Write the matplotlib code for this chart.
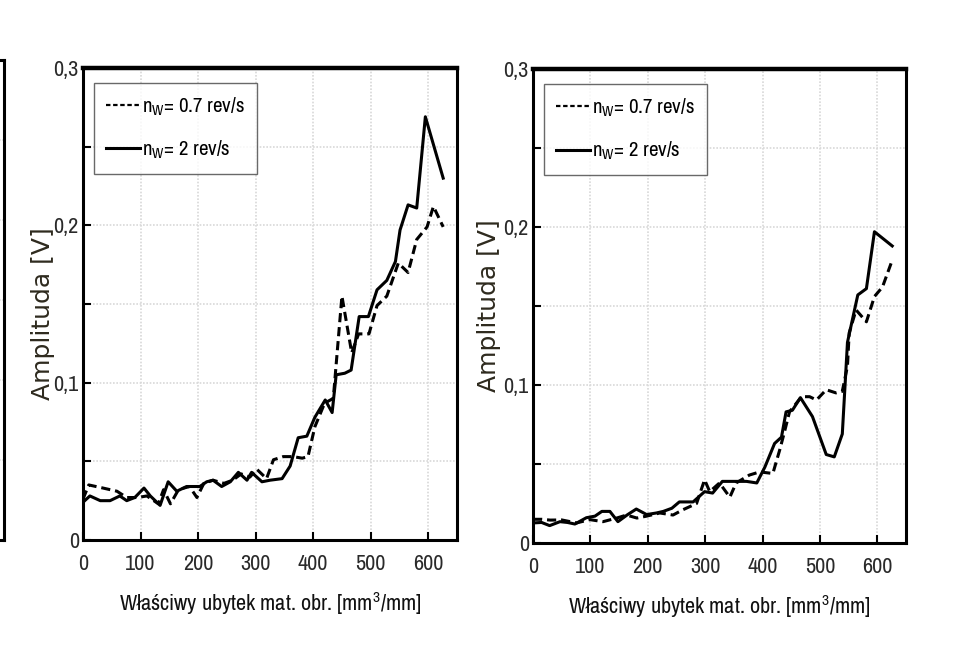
import matplotlib
matplotlib.use("Agg")
import matplotlib.pyplot as plt
from matplotlib import font_manager
from matplotlib.lines import Line2D
from matplotlib.ticker import MultipleLocator, FuncFormatter

# ---- data ----
left_x_solid = [0, 12, 30, 47, 64, 76, 90, 106, 117, 134, 148, 163, 180, 203, 215, 226, 241, 256, 270, 285,
                293, 311, 325, 346, 360, 374, 389, 403, 421, 433, 440, 455, 466, 480, 496, 511, 528, 543, 551,
                565, 580, 595, 626]
left_y_solid = [0.024, 0.028, 0.025, 0.025, 0.028, 0.025, 0.027, 0.033, 0.028, 0.022, 0.037, 0.031, 0.034,
                0.034, 0.037, 0.038, 0.034, 0.037, 0.043, 0.038, 0.043, 0.037, 0.038, 0.039, 0.047, 0.065,
                0.066, 0.078, 0.089, 0.081, 0.105, 0.106, 0.108, 0.142, 0.142, 0.159, 0.165, 0.177, 0.197,
                0.213, 0.211, 0.269, 0.230]
left_x_dash = [0, 10, 35, 59, 76, 95, 111, 131, 140, 152, 166, 185, 198, 210, 226, 245, 260, 275, 290, 302,
               319, 331, 348, 365, 381, 391, 403, 420, 435, 450, 467, 479, 497, 511, 528, 548, 565, 580, 598,
               609, 626]
left_y_dash = [0.026, 0.035, 0.033, 0.031, 0.027, 0.027, 0.028, 0.023, 0.032, 0.023, 0.032, 0.034, 0.027,
               0.036, 0.038, 0.036, 0.038, 0.042, 0.040, 0.045, 0.039, 0.051, 0.053, 0.053, 0.052, 0.053,
               0.072, 0.087, 0.090, 0.155, 0.119, 0.131, 0.131, 0.149, 0.155, 0.176, 0.170, 0.191, 0.199,
               0.212, 0.199]

right_x_solid = [0, 15, 29, 47, 60, 73, 93, 108, 120, 134, 148, 165, 180, 198, 215, 227, 242, 255, 279, 299,
                 313, 330, 354, 372, 390, 404, 421, 433, 441, 452, 466, 487, 511, 525, 539, 548, 566, 581,
                 595, 626]
right_y_solid = [0.0127, 0.013, 0.011, 0.0135, 0.013, 0.012, 0.016, 0.017, 0.020, 0.020, 0.0135, 0.018,
                 0.0215, 0.018, 0.019, 0.020, 0.022, 0.026, 0.026, 0.0325, 0.0316, 0.039, 0.039, 0.039,
                 0.038, 0.048, 0.063, 0.067, 0.083, 0.084, 0.092, 0.080, 0.056, 0.0545, 0.069, 0.127,
                 0.157, 0.161, 0.197, 0.188]
right_x_dash = [0, 15, 30, 50, 76, 99, 122, 146, 163, 181, 198, 221, 244, 261, 285, 299, 308, 325, 343, 354,
                377, 395, 418, 430, 438, 447, 468, 482, 494, 511, 528, 539, 548, 551, 563, 581, 595, 609, 626]
right_y_dash = [0.015, 0.015, 0.0145, 0.0146, 0.0127, 0.0148, 0.0135, 0.0158, 0.0177, 0.0158, 0.017, 0.019,
                0.0177, 0.021, 0.025, 0.040, 0.0325, 0.038, 0.029, 0.038, 0.043, 0.045, 0.044, 0.059,
                0.070, 0.083, 0.0926, 0.0926, 0.0905, 0.097, 0.095, 0.096, 0.112, 0.133, 0.1475, 0.140,
                0.156, 0.162, 0.179]

legend_labels = [r"n$_\mathregular{W}$= 0.7 rev/s", r"n$_\mathregular{W}$= 2 rev/s"]
xlabel = r"Właściwy ubytek mat. obr. [mm$^\mathregular{3}$/mm]"
ylabel = "Amplituda [V]"

# ---- fonts ----
names = {f.name for f in font_manager.fontManager.ttflist}
narrow = "Liberation Sans"
for cand in ["Liberation Sans Narrow", "Arial Narrow", "Archivo Narrow", "Roboto Condensed", "Liberation Sans"]:
    if cand in names:
        narrow = cand
        break
plt.rcParams["font.family"] = [narrow, "DejaVu Sans"]
plt.rcParams["mathtext.default"] = "regular"

fig = plt.figure(figsize=(9.58, 6.71), dpi=100)

# partial panel cut off at the left edge
ax0 = fig.add_axes([-0.5, 1 - 540 / 671, 0.5 + 4 / 958, 480 / 671])
ax0.set_xlim(0, 1)
ax0.set_ylim(0, 0.3)
ax0.set_xticks([])
ax0.yaxis.set_major_locator(MultipleLocator(0.05))
ax0.tick_params(left=False, labelleft=False)
ax0.grid(True, axis="y", color="#d8d8d8", linestyle=(0, (1, 1)), linewidth=1.2)
for s in ax0.spines.values():
    s.set_linewidth(2.2)

panels = [
    ([83 / 958, 1 - 540 / 671, 374 / 958, 472 / 671], left_x_dash, left_y_dash, left_x_solid, left_y_solid,
     (-0.075, 0.48)),
    ([533 / 958, 1 - 543 / 671, 373 / 958, 474 / 671], right_x_dash, right_y_dash, right_x_solid, right_y_solid,
     (-0.085, 0.50)),
]

def yfmt(v, pos):
    r = round(v * 20)
    if r % 2:
        return ""
    if r == 0:
        return "0"
    return ("%.1f" % v).replace(".", ",")

tick_color = "#2a2a2a"
for rect, xd, yd, xs, ys, ylpos in panels:
    ax = fig.add_axes(rect)
    ax.plot(xd, yd, color="black", linewidth=2.2, linestyle=(0, (3, 1.6)))
    ax.plot(xs, ys, color="black", linewidth=2.2, linestyle="-")
    ax.set_xlim(0, 650)
    ax.set_ylim(0, 0.3)
    ax.xaxis.set_major_locator(MultipleLocator(100))
    ax.yaxis.set_major_locator(MultipleLocator(0.05))
    ax.yaxis.set_major_formatter(FuncFormatter(yfmt))
    ax.grid(True, color="#d8d8d8", linestyle=(0, (1, 1)), linewidth=1.2)
    ax.set_axisbelow(True)
    for s in ax.spines.values():
        s.set_linewidth(2.2)
    ax.spines["top"].set_linewidth(3.2)
    ax.tick_params(direction="in", length=6, width=1.5, labelsize=16, labelcolor=tick_color, pad=3)
    ax.tick_params(axis="x", pad=10)
    ax.set_xlabel(xlabel, fontsize=16, color="#111111", labelpad=12)
    ax.set_ylabel(ylabel, fontsize=18, color="#2e2a1e", family=["DejaVu Sans"])
    ax.yaxis.set_label_coords(*ylpos)
    handles = [Line2D([], [], color="black", linewidth=1.6, linestyle=(0, (2, 1.2))),
               Line2D([], [], color="black", linewidth=2.2, linestyle="-")]
    leg = ax.legend(handles, legend_labels, loc="upper left", bbox_to_anchor=(0.029, 0.968), borderaxespad=0,
                    fontsize=15, frameon=True, fancybox=False, edgecolor="#444444",
                    handlelength=1.6, handletextpad=0.1, borderpad=0.6, labelspacing=1.0)
    leg.get_frame().set_linewidth(1.0)

fig.savefig("out.png", dpi=100)
